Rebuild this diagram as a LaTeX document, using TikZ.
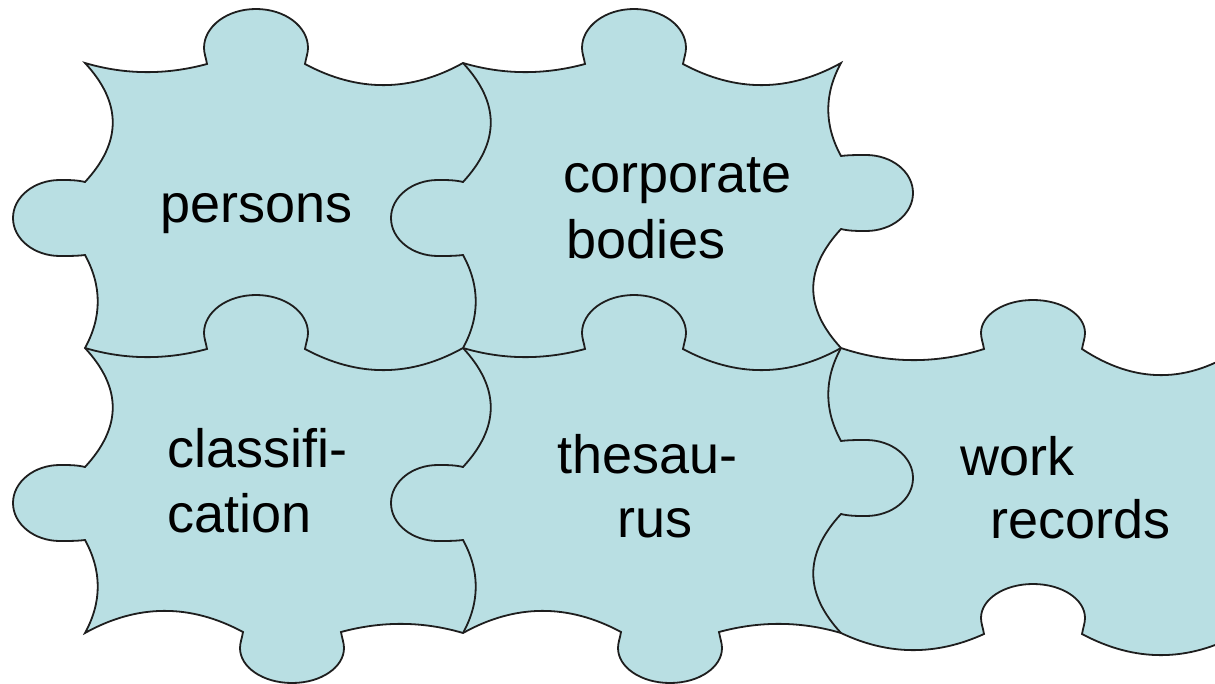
\documentclass[tikz,border=0pt]{standalone}
\usepackage{fontspec}
\setmainfont[Ligatures=NoCommon]{Liberation Sans}
\definecolor{piecefill}{RGB}{185,223,227}
\definecolor{pieceline}{RGB}{30,30,30}
% horizontal edge, forward: a b sx sy c d1 d2 k W
\newcommand{\Hf}[9]{%
 .. controls ({#1+(#3)*((#5-49)/3)},{#2+(#4)*(4*#6/3)}) and ({#1+(#3)*(2*(#5-49)/3)},{#2+(#4)*(4*#6/3)}) .. ({#1+(#3)*(#5-49)},{#2+(#4)*1})
 .. controls ({#1+(#3)*(#5-50)},{#2+(#4)*(-5)}) and ({#1+(#3)*(#5-52)},{#2+(#4)*(-10)}) .. ({#1+(#3)*(#5-52)},{#2+(#4)*(-15)})
 .. controls ({#1+(#3)*(#5-52)},{#2+(#4)*(-15-0.552*(#8-15))}) and ({#1+(#3)*(#5-29)},{#2+(#4)*(-#8)}) .. ({#1+(#3)*(#5)},{#2+(#4)*(-#8)})
 .. controls ({#1+(#3)*(#5+29)},{#2+(#4)*(-#8)}) and ({#1+(#3)*(#5+52)},{#2+(#4)*(-15-0.552*(#8-15))}) .. ({#1+(#3)*(#5+52)},{#2+(#4)*(-15)})
 .. controls ({#1+(#3)*(#5+52)},{#2+(#4)*(-10)}) and ({#1+(#3)*(#5+50)},{#2+(#4)*(-5)}) .. ({#1+(#3)*(#5+49)},{#2+(#4)*1})
 .. controls ({#1+(#3)*(#5+49+(#9-49-#5)/3)},{#2+(#4)*(4*#7/3)}) and ({#1+(#3)*(#5+49+2*(#9-49-#5)/3)},{#2+(#4)*(4*#7/3)}) .. ({#1+(#3)*(#9)},{#2})
}
% horizontal edge, reverse
\newcommand{\Hr}[9]{%
 .. controls ({#1+(#3)*(#5+49+2*(#9-49-#5)/3)},{#2+(#4)*(4*#7/3)}) and ({#1+(#3)*(#5+49+(#9-49-#5)/3)},{#2+(#4)*(4*#7/3)}) .. ({#1+(#3)*(#5+49)},{#2+(#4)*1})
 .. controls ({#1+(#3)*(#5+50)},{#2+(#4)*(-5)}) and ({#1+(#3)*(#5+52)},{#2+(#4)*(-10)}) .. ({#1+(#3)*(#5+52)},{#2+(#4)*(-15)})
 .. controls ({#1+(#3)*(#5+52)},{#2+(#4)*(-15-0.552*(#8-15))}) and ({#1+(#3)*(#5+29)},{#2+(#4)*(-#8)}) .. ({#1+(#3)*(#5)},{#2+(#4)*(-#8)})
 .. controls ({#1+(#3)*(#5-29)},{#2+(#4)*(-#8)}) and ({#1+(#3)*(#5-52)},{#2+(#4)*(-15-0.552*(#8-15))}) .. ({#1+(#3)*(#5-52)},{#2+(#4)*(-15)})
 .. controls ({#1+(#3)*(#5-52)},{#2+(#4)*(-10)}) and ({#1+(#3)*(#5-50)},{#2+(#4)*(-5)}) .. ({#1+(#3)*(#5-49)},{#2+(#4)*1})
 .. controls ({#1+(#3)*(2*(#5-49)/3)},{#2+(#4)*(4*#6/3)}) and ({#1+(#3)*((#5-49)/3)},{#2+(#4)*(4*#6/3)}) .. ({#1},{#2})
}
% vertical edge, forward: a b sx sy
\newcommand{\Vf}[4]{%
 .. controls ({#1+(#3)*37},{#2+(#4)*40}) and ({#1+(#3)*37},{#2+(#4)*79}) .. ({#1},{#2+(#4)*119})
 .. controls ({#1+(#3)*(-8)},{#2+(#4)*117}) and ({#1+(#3)*(-16)},{#2+(#4)*117}) .. ({#1+(#3)*(-25)},{#2+(#4)*117})
 .. controls ({#1+(#3)*(-51)},{#2+(#4)*117}) and ({#1+(#3)*(-72)},{#2+(#4)*134}) .. ({#1+(#3)*(-72)},{#2+(#4)*155})
 .. controls ({#1+(#3)*(-72)},{#2+(#4)*176}) and ({#1+(#3)*(-51)},{#2+(#4)*193}) .. ({#1+(#3)*(-25)},{#2+(#4)*193})
 .. controls ({#1+(#3)*(-16)},{#2+(#4)*193}) and ({#1+(#3)*(-8)},{#2+(#4)*193}) .. ({#1},{#2+(#4)*192})
 .. controls ({#1+(#3)*17},{#2+(#4)*223}) and ({#1+(#3)*17},{#2+(#4)*254}) .. ({#1},{#2+(#4)*285})
}
% vertical edge, reverse
\newcommand{\Vr}[4]{%
 .. controls ({#1+(#3)*17},{#2+(#4)*254}) and ({#1+(#3)*17},{#2+(#4)*223}) .. ({#1},{#2+(#4)*192})
 .. controls ({#1+(#3)*(-8)},{#2+(#4)*193}) and ({#1+(#3)*(-16)},{#2+(#4)*193}) .. ({#1+(#3)*(-25)},{#2+(#4)*193})
 .. controls ({#1+(#3)*(-51)},{#2+(#4)*193}) and ({#1+(#3)*(-72)},{#2+(#4)*176}) .. ({#1+(#3)*(-72)},{#2+(#4)*155})
 .. controls ({#1+(#3)*(-72)},{#2+(#4)*134}) and ({#1+(#3)*(-51)},{#2+(#4)*117}) .. ({#1+(#3)*(-25)},{#2+(#4)*117})
 .. controls ({#1+(#3)*(-16)},{#2+(#4)*117}) and ({#1+(#3)*(-8)},{#2+(#4)*117}) .. ({#1},{#2+(#4)*119})
 .. controls ({#1+(#3)*37},{#2+(#4)*79}) and ({#1+(#3)*37},{#2+(#4)*40}) .. ({#1},{#2})
}
\begin{document}
\begin{tikzpicture}[x=0.5pt,y=-0.5pt,
  outline/.style={fill=piecefill,draw=pieceline,line width=0.9pt,line join=miter},
  seam/.style={draw=pieceline,line width=0.9pt},
  lbl/.style={anchor=base west,inner sep=0pt,text=black,font=\fontsize{27}{32}\selectfont}]
\useasboundingbox (0,0) rectangle (1215,684);
\clip (0,0) rectangle (1215,684);
% outer outline of the assembled pieces
\path[outline] (85,63)
  \Hf{85}{63}{1}{1}{171}{9}{22}{54}{378}
  \Hf{463}{63}{1}{1}{171}{9}{22}{54}{378}
  \Vr{841}{348}{-1}{-1}
  \Hf{841}{348}{1}{1}{192}{12}{27}{48}{400}
  -- (1241,633)
  \Hr{841}{633}{1}{1}{192}{17}{22}{49}{400}
  \Hf{841}{633}{-1}{-1}{171}{9}{22}{50}{378}
  \Hf{463}{633}{-1}{-1}{171}{9}{22}{50}{378}
  \Vr{85}{348}{1}{1}
  \Vr{85}{63}{1}{1}
  -- cycle;
% inner seams
\draw[seam] (463,63) \Vf{463}{63}{1}{1};
\draw[seam] (463,348) \Vf{463}{348}{1}{1};
\draw[seam] (85,348) \Hf{85}{348}{1}{1}{171}{9}{22}{53}{378};
\draw[seam] (463,348) \Hf{463}{348}{1}{1}{171}{9}{22}{53}{378};
\draw[seam] (841,633) \Vf{841}{633}{-1}{-1};
% labels
\node[lbl] (persons) at (160,223) {persons};
\node[lbl] (corp1) at (563,193) {corporate};
\node[lbl] (corp2) at (566,259) {bodies};
\node[lbl] (class1) at (167,467) {classifi-};
\node[lbl] (class2) at (167,532) {cation};
\node[lbl] (thes1) at (557,473) {thesau-};
\node[lbl] (thes2) at (617,537) {rus};
\node[lbl] (work1) at (960,475) {work};
\node[lbl] (work2) at (990,538) {records};
\end{tikzpicture}
\end{document}
